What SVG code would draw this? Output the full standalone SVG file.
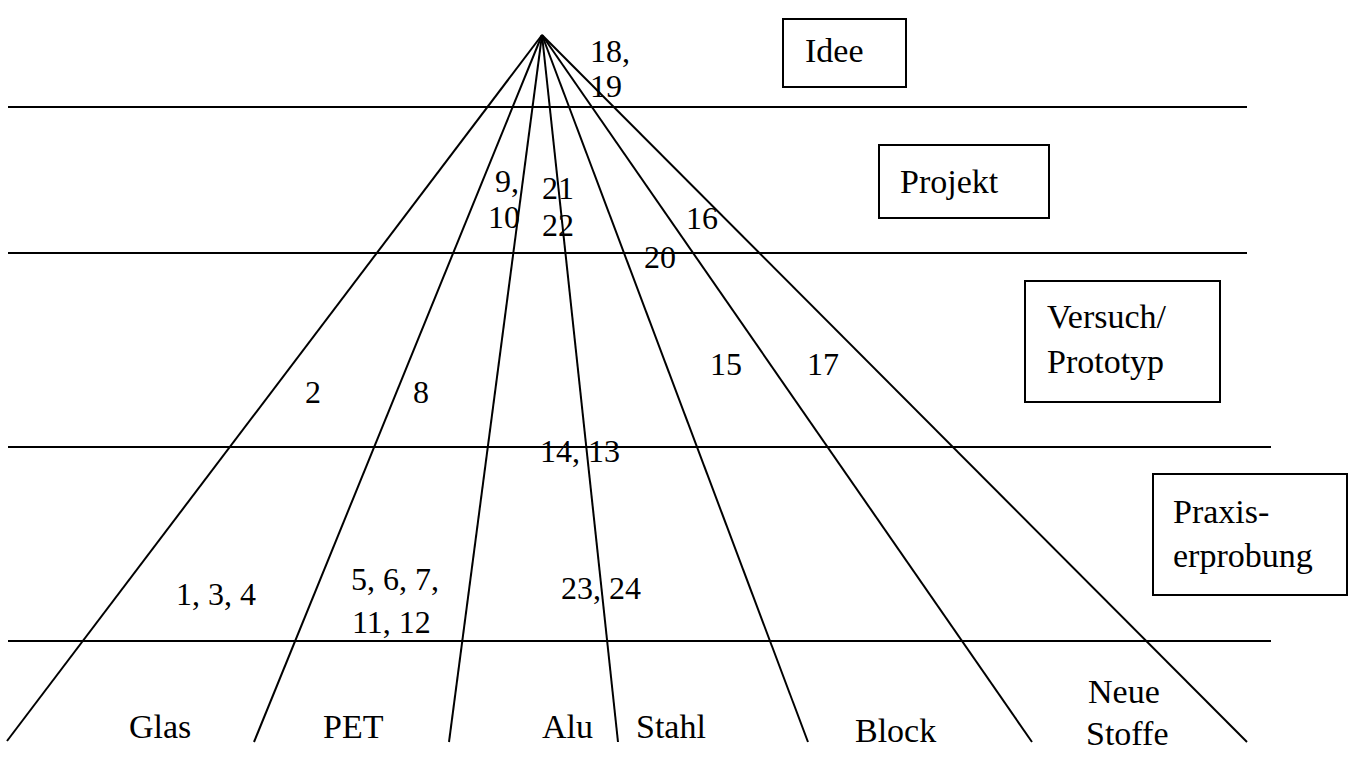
<svg xmlns="http://www.w3.org/2000/svg" width="1353" height="758" viewBox="0 0 1353 758">
<style>
.ln{stroke:#000;stroke-width:2;fill:none}
.bx{stroke:#000;stroke-width:2;fill:#fff}
.t{font-family:'Liberation Serif','DejaVu Serif',serif;font-size:34px;fill:#000}
.n{font-family:'Liberation Serif','DejaVu Serif',serif;font-size:32px;fill:#000}
</style>
<rect width="1353" height="758" fill="#fff"/>
<g id="connectors">
<line class="ln" x1="8" y1="107" x2="1247" y2="107"/>
<line class="ln" x1="8" y1="253" x2="1247" y2="253"/>
<line class="ln" x1="8" y1="447" x2="1271" y2="447"/>
<line class="ln" x1="8" y1="641" x2="1271" y2="641"/>
<line class="ln" x1="542" y1="35" x2="7" y2="741"/>
<line class="ln" x1="542" y1="35" x2="254" y2="742"/>
<line class="ln" x1="542" y1="35" x2="449" y2="742"/>
<line class="ln" x1="542" y1="35" x2="618" y2="742"/>
<line class="ln" x1="542" y1="35" x2="808" y2="742"/>
<line class="ln" x1="542" y1="35" x2="1032" y2="742"/>
<line class="ln" x1="542" y1="35" x2="1247" y2="742"/>
</g>
<g id="idee"><rect class="bx" x="783" y="19" width="123" height="68"/><text class="t" font-family="Liberation Serif, serif" x="805" y="62">Idee</text></g>
<g id="projekt"><rect class="bx" x="879" y="145" width="170" height="73"/><text class="t" x="900" y="193">Projekt</text></g>
<g id="versuch"><rect class="bx" x="1025" y="281" width="195" height="121"/><text class="t" x="1047" y="328">Versuch/</text><text class="t" x="1047" y="373">Prototyp</text></g>
<g id="praxis"><rect class="bx" x="1153" y="474" width="194" height="121"/><text class="t" x="1173" y="523">Praxis-</text><text class="t" x="1173" y="567">erprobung</text></g>
<g id="numbers">
<text class="n" x="590" y="62">18,</text>
<text class="n" x="590" y="97">19</text>
<text class="n" x="495" y="192">9,</text>
<text class="n" x="488" y="228">10</text>
<text class="n" x="542" y="199">21</text>
<text class="n" x="542" y="236">22</text>
<text class="n" x="686" y="229">16</text>
<text class="n" x="644" y="268">20</text>
<text class="n" x="305" y="403">2</text>
<text class="n" x="413" y="403">8</text>
<text class="n" x="710" y="375">15</text>
<text class="n" x="807" y="375">17</text>
<text class="n" x="540" y="462">14, 13</text>
<text class="n" x="176" y="605">1, 3, 4</text>
<text class="n" x="351" y="590">5, 6, 7,</text>
<text class="n" x="352" y="633">11, 12</text>
<text class="n" x="561" y="599">23, 24</text>
</g>
<g id="labels">
<text class="t" x="129" y="738">Glas</text>
<text class="t" x="323" y="738">PET</text>
<text class="t" x="542" y="738">Alu</text>
<text class="t" x="636" y="738">Stahl</text>
<text class="t" x="855" y="742">Block</text>
<text class="t" x="1088" y="703">Neue</text>
<text class="t" x="1086" y="745">Stoffe</text>
</g>
</svg>
